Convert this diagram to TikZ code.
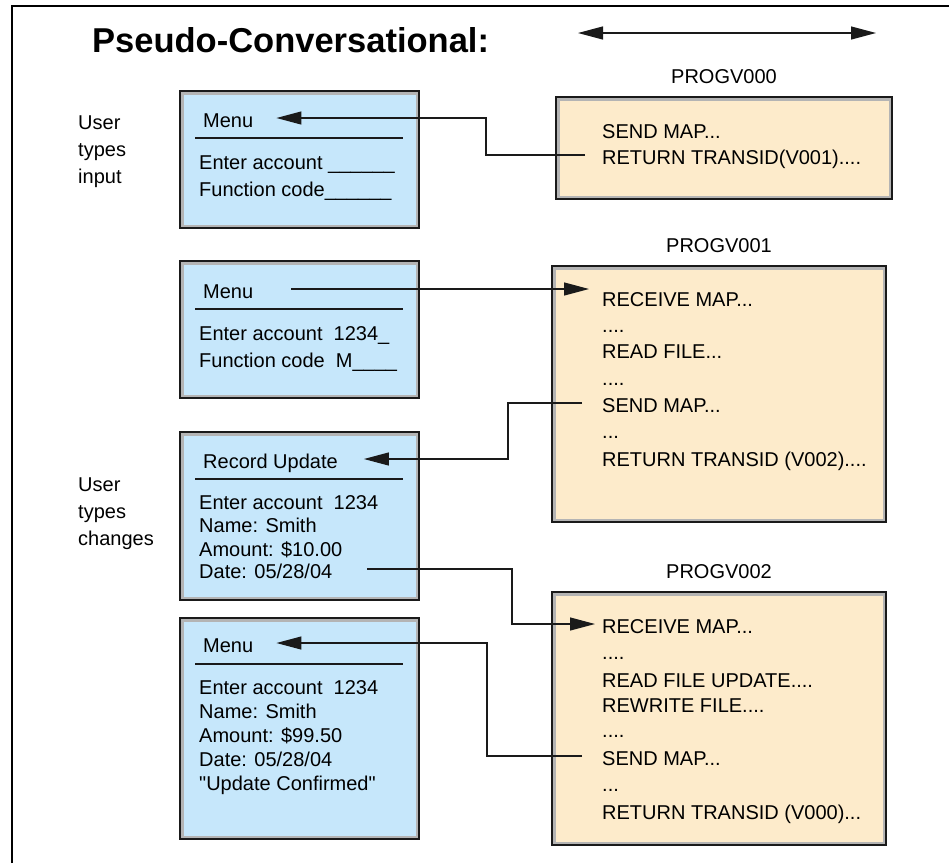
\documentclass[tikz,border=0pt]{standalone}
\usepackage{fontspec}
\setmainfont{Liberation Sans}
\usetikzlibrary{positioning,arrows.meta}
\definecolor{ink}{HTML}{1A1A1A}
\definecolor{rim}{HTML}{B4B4B4}
\definecolor{screenBlue}{HTML}{C6E7FB}
\definecolor{paleAmber}{HTML}{FDEBCB}
\newcommand{\bodysize}{\fontsize{20pt}{24pt}\selectfont}
\tikzset{
  >={Triangle[length=25pt,width=13pt]},
  panel/.style={rectangle, anchor=north west, outer sep=0pt, draw=ink, line width=2pt,
                path picture={\draw[rim, line width=7pt] (path picture bounding box.south west)
                  rectangle (path picture bounding box.north east);}},
  screen/.style={panel, fill=screenBlue, minimum width=239pt},
  program/.style={panel, fill=paleAmber},
  line/.style={anchor=base west, inner sep=0pt, text height=18pt, text depth=0pt, font=\bodysize},
  note/.style={anchor=north west, align=left, inner sep=0pt, font=\fontsize{20pt}{27pt}\selectfont},
  proglabel/.style={inner sep=0pt, text depth=0pt, font=\bodysize},
  headrule/.style={line width=2.4pt, draw=ink},
  flow/.style={->, line width=1.2pt, draw=ink},
  span/.style={<->, line width=1.2pt, draw=ink},
  frame/.style={line width=2pt, draw=black}
}
\begin{document}
\begin{tikzpicture}[x=1pt, y=-1pt]
\useasboundingbox (0,0) rectangle (949,863);
\draw[frame] (12,863) |- (949,6);

\node[anchor=base west, inner sep=0pt, font=\fontsize{34.5pt}{40pt}\selectfont\bfseries] (title) at (92,52) {Pseudo-Conversational:};
\coordinate (spanL) at (578,33);
\coordinate (spanR) at (876,33);
\draw[span] (spanL) -- (spanR);

\node[note] (noteA) at (78,116) {User\\types\\input};
\node[note] (noteB) at (78,478) {User\\types\\changes};

\node[screen, minimum height=137pt] (scrA) at (180,91) {};
\node[screen, minimum height=137pt] (scrB) at (180,261) {};
\node[screen, minimum height=168pt] (scrC) at (180,432) {};
\node[screen, minimum height=221pt] (scrD) at (180,618) {};

\node[program, minimum width=336pt, minimum height=102pt] (progA) at (556,97) {};
\node[program, minimum width=334pt, minimum height=256pt] (progB) at (552,266) {};
\node[program, minimum width=334pt, minimum height=253pt] (progC) at (552,592) {};
\node[proglabel, above=13pt of progA] (labA) {PROGV000};
\node[proglabel, above=13pt of progB] (labB) {PROGV001};
\node[proglabel, above=13pt of progC] (labC) {PROGV002};

\node[line] (menuA) at (203,127) {Menu};
\draw[headrule] (195,138) -- (403,138);
\node[line] (acctA) at (199,169) {Enter account \_\_\_\_\_\_};
\node[line] (funcA) at (199,196) {Function code\_\_\_\_\_\_};

\node[line] (menuB) at (203,298) {Menu};
\draw[headrule] (195,309) -- (403,309);
\node[line] (acctB) at (199,340) {Enter account\ \ 1234\_};
\node[line] (funcB) at (199,367) {Function code\ \ M\_\_\_\_};

\node[line] (recUpd) at (203,468) {Record Update};
\draw[headrule] (195,479) -- (403,479);
\node[line] (acctC) at (199,509) {Enter account\ \ 1234};
\node[line] (nameC) at (199,532) {Name: Smith};
\node[line] (amtC) at (199,556) {Amount: \$10.00};
\node[line] (dateC) at (199,578) {Date: 05/28/04};

\node[line] (menuD) at (203,652) {Menu};
\draw[headrule] (195,664) -- (403,664);
\node[line] (acctD) at (199,694) {Enter account\ \ 1234};
\node[line] (nameD) at (199,718) {Name: Smith};
\node[line] (amtD) at (199,742) {Amount: \$99.50};
\node[line] (dateD) at (199,766) {Date: 05/28/04};
\node[line] (confD) at (199,790) {\textquotedbl Update Confirmed\textquotedbl};

\node[line] (sendA) at (602,138) {SEND MAP...};
\node[line] (retA) at (602,164) {RETURN TRANSID(V001)....};

\node[line] (recvB) at (602,306) {RECEIVE MAP...};
\node[line] (dotsB1) at (602,332) {....};
\node[line] (readB) at (602,358) {READ FILE...};
\node[line] (dotsB2) at (602,385) {....};
\node[line] (sendB) at (602,412) {SEND MAP...};
\node[line] (dotsB3) at (602,438) {...};
\node[line] (retB) at (602,466) {RETURN TRANSID (V002)....};

\node[line] (recvC) at (602,633) {RECEIVE MAP...};
\node[line] (dotsC1) at (602,659) {....};
\node[line] (readC) at (602,687) {READ FILE UPDATE....};
\node[line] (rewrC) at (602,712) {REWRITE FILE....};
\node[line] (dotsC2) at (602,737) {....};
\node[line] (sendC) at (602,765) {SEND MAP...};
\node[line] (dotsC3) at (602,791) {...};
\node[line] (retC) at (602,819) {RETURN TRANSID (V000)...};

\draw[flow, shorten <=17pt, shorten >=23pt] (retA.west) -- ++(-116,0) |- (menuA.east);
\draw[flow, shorten <=38pt, shorten >=13pt] (menuB.east) -- (menuB.east -| recvB.west);
\draw[flow, shorten <=20pt, shorten >=26pt] (sendB.west) -- ++(-94,0) |- (recUpd.east);
\draw[flow, shorten <=35pt, shorten >=7pt] (dateC.east) -| ([xshift=-90pt]recvC.west) -- (recvC.west);
\draw[flow, shorten <=20pt, shorten >=23pt] (sendC.west) -- ++(-115,0) |- (menuD.east);
\end{tikzpicture}
\end{document}
